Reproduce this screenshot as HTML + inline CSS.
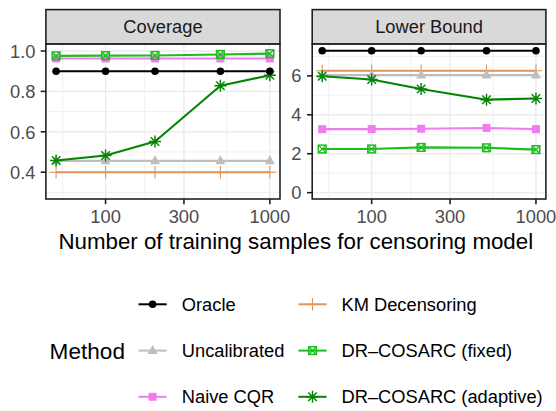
<!DOCTYPE html>
<html><head><meta charset="utf-8"><style>
html,body{margin:0;padding:0;background:#fff;}
svg{display:block;font-family:"Liberation Sans",sans-serif;}
</style></head><body>
<svg width="556" height="411" viewBox="0 0 556 411">
<rect width="556" height="411" fill="#fff"/>
<rect x="45.9" y="43.9" width="234.10" height="155.10" fill="#fff"/>
<line x1="45.9" x2="280.0" y1="192.40" y2="192.40" stroke="#EBEBEB" stroke-width="0.7"/>
<line x1="45.9" x2="280.0" y1="152.00" y2="152.00" stroke="#EBEBEB" stroke-width="0.7"/>
<line x1="45.9" x2="280.0" y1="111.60" y2="111.60" stroke="#EBEBEB" stroke-width="0.7"/>
<line x1="45.9" x2="280.0" y1="71.20" y2="71.20" stroke="#EBEBEB" stroke-width="0.7"/>
<line y1="43.9" y2="199.0" x1="62.60" x2="62.60" stroke="#EBEBEB" stroke-width="0.7"/>
<line y1="43.9" y2="199.0" x1="144.75" x2="144.75" stroke="#EBEBEB" stroke-width="0.7"/>
<line y1="43.9" y2="199.0" x1="226.90" x2="226.90" stroke="#EBEBEB" stroke-width="0.7"/>
<line x1="45.9" x2="280.0" y1="172.20" y2="172.20" stroke="#EBEBEB" stroke-width="1.4"/>
<line x1="45.9" x2="280.0" y1="131.80" y2="131.80" stroke="#EBEBEB" stroke-width="1.4"/>
<line x1="45.9" x2="280.0" y1="91.40" y2="91.40" stroke="#EBEBEB" stroke-width="1.4"/>
<line x1="45.9" x2="280.0" y1="51.00" y2="51.00" stroke="#EBEBEB" stroke-width="1.4"/>
<line y1="43.9" y2="199.0" x1="105.56" x2="105.56" stroke="#EBEBEB" stroke-width="1.4"/>
<line y1="43.9" y2="199.0" x1="183.95" x2="183.95" stroke="#EBEBEB" stroke-width="1.4"/>
<line y1="43.9" y2="199.0" x1="269.86" x2="269.86" stroke="#EBEBEB" stroke-width="1.4"/>
<polyline points="56.10,71.20 105.56,71.20 155.02,71.20 220.40,71.20 269.86,71.20" fill="none" stroke="#000000" stroke-width="2.1" stroke-linejoin="round"/>
<polyline points="56.10,160.89 105.56,160.89 155.02,160.89 220.40,160.89 269.86,160.89" fill="none" stroke="#BEBEBE" stroke-width="2.1" stroke-linejoin="round"/>
<polyline points="56.10,58.47 105.56,58.47 155.02,58.47 220.40,58.47 269.86,58.47" fill="none" stroke="#EF7DEF" stroke-width="2.1" stroke-linejoin="round"/>
<polyline points="56.10,172.20 105.56,172.20 155.02,172.20 220.40,172.20 269.86,172.20" fill="none" stroke="#E2955A" stroke-width="2.1" stroke-linejoin="round"/>
<polyline points="56.10,55.85 105.56,55.65 155.02,55.44 220.40,54.43 269.86,53.63" fill="none" stroke="#1CBE1C" stroke-width="2.1" stroke-linejoin="round"/>
<polyline points="56.10,160.48 105.56,155.43 155.02,141.50 220.40,85.74 269.86,75.24" fill="none" stroke="#048404" stroke-width="2.1" stroke-linejoin="round"/>
<path d="M49.90,172.20H62.30M56.10,166.00V178.40" stroke="#E2955A" stroke-width="1.1" fill="none"/>
<path d="M99.36,172.20H111.76M105.56,166.00V178.40" stroke="#E2955A" stroke-width="1.1" fill="none"/>
<path d="M148.82,172.20H161.22M155.02,166.00V178.40" stroke="#E2955A" stroke-width="1.1" fill="none"/>
<path d="M214.20,172.20H226.60M220.40,166.00V178.40" stroke="#E2955A" stroke-width="1.1" fill="none"/>
<path d="M263.66,172.20H276.06M269.86,166.00V178.40" stroke="#E2955A" stroke-width="1.1" fill="none"/>
<polygon points="56.10,155.31 61.10,164.31 51.10,164.31" fill="#BEBEBE"/>
<polygon points="105.56,155.31 110.56,164.31 100.56,164.31" fill="#BEBEBE"/>
<polygon points="155.02,155.31 160.02,164.31 150.02,164.31" fill="#BEBEBE"/>
<polygon points="220.40,155.31 225.40,164.31 215.40,164.31" fill="#BEBEBE"/>
<polygon points="269.86,155.31 274.86,164.31 264.86,164.31" fill="#BEBEBE"/>
<rect x="52.10" y="54.47" width="8.0" height="8.0" fill="#EF7DEF"/>
<rect x="101.56" y="54.47" width="8.0" height="8.0" fill="#EF7DEF"/>
<rect x="151.02" y="54.47" width="8.0" height="8.0" fill="#EF7DEF"/>
<rect x="216.40" y="54.47" width="8.0" height="8.0" fill="#EF7DEF"/>
<rect x="265.86" y="54.47" width="8.0" height="8.0" fill="#EF7DEF"/>
<rect x="52.25" y="52.00" width="7.7" height="7.7" stroke="#1CBE1C" stroke-width="1.5" fill="none"/><path d="M52.25,52.00L59.95,59.70M59.95,52.00L52.25,59.70" stroke="#1CBE1C" stroke-width="1.3"/>
<rect x="101.71" y="51.80" width="7.7" height="7.7" stroke="#1CBE1C" stroke-width="1.5" fill="none"/><path d="M101.71,51.80L109.41,59.50M109.41,51.80L101.71,59.50" stroke="#1CBE1C" stroke-width="1.3"/>
<rect x="151.17" y="51.59" width="7.7" height="7.7" stroke="#1CBE1C" stroke-width="1.5" fill="none"/><path d="M151.17,51.59L158.87,59.29M158.87,51.59L151.17,59.29" stroke="#1CBE1C" stroke-width="1.3"/>
<rect x="216.55" y="50.58" width="7.7" height="7.7" stroke="#1CBE1C" stroke-width="1.5" fill="none"/><path d="M216.55,50.58L224.25,58.28M224.25,50.58L216.55,58.28" stroke="#1CBE1C" stroke-width="1.3"/>
<rect x="266.01" y="49.78" width="7.7" height="7.7" stroke="#1CBE1C" stroke-width="1.5" fill="none"/><path d="M266.01,49.78L273.71,57.48M273.71,49.78L266.01,57.48" stroke="#1CBE1C" stroke-width="1.3"/>
<path d="M56.10,154.48V166.48M50.10,160.48H62.10M51.86,156.24L60.34,164.73M60.34,156.24L51.86,164.73" stroke="#048404" stroke-width="1.45" fill="none"/>
<path d="M105.56,149.43V161.43M99.56,155.43H111.56M101.32,151.19L109.80,159.68M109.80,151.19L101.32,159.68" stroke="#048404" stroke-width="1.45" fill="none"/>
<path d="M155.02,135.50V147.50M149.02,141.50H161.02M150.78,137.25L159.26,145.74M159.26,137.25L150.78,145.74" stroke="#048404" stroke-width="1.45" fill="none"/>
<path d="M220.40,79.74V91.74M214.40,85.74H226.40M216.16,81.50L224.64,89.99M224.64,81.50L216.16,89.99" stroke="#048404" stroke-width="1.45" fill="none"/>
<path d="M269.86,69.24V81.24M263.86,75.24H275.86M265.62,71.00L274.10,79.48M274.10,71.00L265.62,79.48" stroke="#048404" stroke-width="1.45" fill="none"/>
<circle cx="56.10" cy="71.20" r="3.8" fill="#000000"/>
<circle cx="105.56" cy="71.20" r="3.8" fill="#000000"/>
<circle cx="155.02" cy="71.20" r="3.8" fill="#000000"/>
<circle cx="220.40" cy="71.20" r="3.8" fill="#000000"/>
<circle cx="269.86" cy="71.20" r="3.8" fill="#000000"/>
<rect x="45.9" y="43.9" width="234.10" height="155.10" fill="none" stroke="#1A1A1A" stroke-width="1.55"/>
<rect x="45.9" y="9.6" width="234.10" height="34.30" fill="#D9D9D9" stroke="#1A1A1A" stroke-width="1.55"/>
<text x="162.95" y="32.7" text-anchor="middle" font-size="18.3" fill="#1A1A1A">Coverage</text>
<line x1="40.70" x2="45.9" y1="172.20" y2="172.20" stroke="#1A1A1A" stroke-width="1.55"/>
<text x="35.50" y="179.20" text-anchor="end" font-size="18.3" fill="#4D4D4D">0.4</text>
<line x1="40.70" x2="45.9" y1="131.80" y2="131.80" stroke="#1A1A1A" stroke-width="1.55"/>
<text x="35.50" y="138.80" text-anchor="end" font-size="18.3" fill="#4D4D4D">0.6</text>
<line x1="40.70" x2="45.9" y1="91.40" y2="91.40" stroke="#1A1A1A" stroke-width="1.55"/>
<text x="35.50" y="98.40" text-anchor="end" font-size="18.3" fill="#4D4D4D">0.8</text>
<line x1="40.70" x2="45.9" y1="51.00" y2="51.00" stroke="#1A1A1A" stroke-width="1.55"/>
<text x="35.50" y="58.00" text-anchor="end" font-size="18.3" fill="#4D4D4D">1.0</text>
<line x1="105.56" x2="105.56" y1="199.0" y2="204.20" stroke="#1A1A1A" stroke-width="1.55"/>
<text x="105.56" y="222.6" text-anchor="middle" font-size="18.3" fill="#4D4D4D">100</text>
<line x1="183.95" x2="183.95" y1="199.0" y2="204.20" stroke="#1A1A1A" stroke-width="1.55"/>
<text x="183.95" y="222.6" text-anchor="middle" font-size="18.3" fill="#4D4D4D">300</text>
<line x1="269.86" x2="269.86" y1="199.0" y2="204.20" stroke="#1A1A1A" stroke-width="1.55"/>
<text x="269.86" y="222.6" text-anchor="middle" font-size="18.3" fill="#4D4D4D">1000</text>
<rect x="312.2" y="43.9" width="233.70" height="155.10" fill="#fff"/>
<line x1="312.2" x2="545.9" y1="173.19" y2="173.19" stroke="#EBEBEB" stroke-width="0.7"/>
<line x1="312.2" x2="545.9" y1="134.27" y2="134.27" stroke="#EBEBEB" stroke-width="0.7"/>
<line x1="312.2" x2="545.9" y1="95.35" y2="95.35" stroke="#EBEBEB" stroke-width="0.7"/>
<line x1="312.2" x2="545.9" y1="56.43" y2="56.43" stroke="#EBEBEB" stroke-width="0.7"/>
<line y1="43.9" y2="199.0" x1="328.70" x2="328.70" stroke="#EBEBEB" stroke-width="0.7"/>
<line y1="43.9" y2="199.0" x1="410.85" x2="410.85" stroke="#EBEBEB" stroke-width="0.7"/>
<line y1="43.9" y2="199.0" x1="493.00" x2="493.00" stroke="#EBEBEB" stroke-width="0.7"/>
<line x1="312.2" x2="545.9" y1="192.65" y2="192.65" stroke="#EBEBEB" stroke-width="1.4"/>
<line x1="312.2" x2="545.9" y1="153.73" y2="153.73" stroke="#EBEBEB" stroke-width="1.4"/>
<line x1="312.2" x2="545.9" y1="114.81" y2="114.81" stroke="#EBEBEB" stroke-width="1.4"/>
<line x1="312.2" x2="545.9" y1="75.89" y2="75.89" stroke="#EBEBEB" stroke-width="1.4"/>
<line y1="43.9" y2="199.0" x1="371.66" x2="371.66" stroke="#EBEBEB" stroke-width="1.4"/>
<line y1="43.9" y2="199.0" x1="450.05" x2="450.05" stroke="#EBEBEB" stroke-width="1.4"/>
<line y1="43.9" y2="199.0" x1="535.96" x2="535.96" stroke="#EBEBEB" stroke-width="1.4"/>
<polyline points="322.20,50.74 371.66,50.74 421.12,50.74 486.50,50.74 535.96,50.74" fill="none" stroke="#000000" stroke-width="2.1" stroke-linejoin="round"/>
<polyline points="322.20,75.10 371.66,75.10 421.12,75.10 486.50,75.10 535.96,75.10" fill="none" stroke="#BEBEBE" stroke-width="2.1" stroke-linejoin="round"/>
<polyline points="322.20,129.14 371.66,129.14 421.12,128.75 486.50,127.96 535.96,129.14" fill="none" stroke="#EF7DEF" stroke-width="2.1" stroke-linejoin="round"/>
<polyline points="322.20,70.78 371.66,70.78 421.12,70.78 486.50,70.78 535.96,70.78" fill="none" stroke="#E2955A" stroke-width="2.1" stroke-linejoin="round"/>
<polyline points="322.20,148.99 371.66,148.99 421.12,147.42 486.50,147.81 535.96,149.58" fill="none" stroke="#1CBE1C" stroke-width="2.1" stroke-linejoin="round"/>
<polyline points="322.20,76.28 371.66,79.43 421.12,89.05 486.50,99.67 535.96,98.49" fill="none" stroke="#048404" stroke-width="2.1" stroke-linejoin="round"/>
<path d="M316.00,70.78H328.40M322.20,64.58V76.98" stroke="#E2955A" stroke-width="1.1" fill="none"/>
<path d="M365.46,70.78H377.86M371.66,64.58V76.98" stroke="#E2955A" stroke-width="1.1" fill="none"/>
<path d="M414.92,70.78H427.32M421.12,64.58V76.98" stroke="#E2955A" stroke-width="1.1" fill="none"/>
<path d="M480.30,70.78H492.70M486.50,64.58V76.98" stroke="#E2955A" stroke-width="1.1" fill="none"/>
<path d="M529.76,70.78H542.16M535.96,64.58V76.98" stroke="#E2955A" stroke-width="1.1" fill="none"/>
<polygon points="322.20,69.52 327.20,78.52 317.20,78.52" fill="#BEBEBE"/>
<polygon points="371.66,69.52 376.66,78.52 366.66,78.52" fill="#BEBEBE"/>
<polygon points="421.12,69.52 426.12,78.52 416.12,78.52" fill="#BEBEBE"/>
<polygon points="486.50,69.52 491.50,78.52 481.50,78.52" fill="#BEBEBE"/>
<polygon points="535.96,69.52 540.96,78.52 530.96,78.52" fill="#BEBEBE"/>
<rect x="318.20" y="125.14" width="8.0" height="8.0" fill="#EF7DEF"/>
<rect x="367.66" y="125.14" width="8.0" height="8.0" fill="#EF7DEF"/>
<rect x="417.12" y="124.75" width="8.0" height="8.0" fill="#EF7DEF"/>
<rect x="482.50" y="123.96" width="8.0" height="8.0" fill="#EF7DEF"/>
<rect x="531.96" y="125.14" width="8.0" height="8.0" fill="#EF7DEF"/>
<rect x="318.35" y="145.14" width="7.7" height="7.7" stroke="#1CBE1C" stroke-width="1.5" fill="none"/><path d="M318.35,145.14L326.05,152.84M326.05,145.14L318.35,152.84" stroke="#1CBE1C" stroke-width="1.3"/>
<rect x="367.81" y="145.14" width="7.7" height="7.7" stroke="#1CBE1C" stroke-width="1.5" fill="none"/><path d="M367.81,145.14L375.51,152.84M375.51,145.14L367.81,152.84" stroke="#1CBE1C" stroke-width="1.3"/>
<rect x="417.27" y="143.57" width="7.7" height="7.7" stroke="#1CBE1C" stroke-width="1.5" fill="none"/><path d="M417.27,143.57L424.97,151.27M424.97,143.57L417.27,151.27" stroke="#1CBE1C" stroke-width="1.3"/>
<rect x="482.65" y="143.96" width="7.7" height="7.7" stroke="#1CBE1C" stroke-width="1.5" fill="none"/><path d="M482.65,143.96L490.35,151.66M490.35,143.96L482.65,151.66" stroke="#1CBE1C" stroke-width="1.3"/>
<rect x="532.11" y="145.73" width="7.7" height="7.7" stroke="#1CBE1C" stroke-width="1.5" fill="none"/><path d="M532.11,145.73L539.81,153.43M539.81,145.73L532.11,153.43" stroke="#1CBE1C" stroke-width="1.3"/>
<path d="M322.20,70.28V82.28M316.20,76.28H328.20M317.96,72.04L326.44,80.52M326.44,72.04L317.96,80.52" stroke="#048404" stroke-width="1.45" fill="none"/>
<path d="M371.66,73.43V85.43M365.66,79.43H377.66M367.42,75.18L375.90,83.67M375.90,75.18L367.42,83.67" stroke="#048404" stroke-width="1.45" fill="none"/>
<path d="M421.12,83.05V95.05M415.12,89.05H427.12M416.88,84.81L425.36,93.30M425.36,84.81L416.88,93.30" stroke="#048404" stroke-width="1.45" fill="none"/>
<path d="M486.50,93.67V105.67M480.50,99.67H492.50M482.26,95.42L490.74,103.91M490.74,95.42L482.26,103.91" stroke="#048404" stroke-width="1.45" fill="none"/>
<path d="M535.96,92.49V104.49M529.96,98.49H541.96M531.72,94.24L540.20,102.73M540.20,94.24L531.72,102.73" stroke="#048404" stroke-width="1.45" fill="none"/>
<circle cx="322.20" cy="50.74" r="3.8" fill="#000000"/>
<circle cx="371.66" cy="50.74" r="3.8" fill="#000000"/>
<circle cx="421.12" cy="50.74" r="3.8" fill="#000000"/>
<circle cx="486.50" cy="50.74" r="3.8" fill="#000000"/>
<circle cx="535.96" cy="50.74" r="3.8" fill="#000000"/>
<rect x="312.2" y="43.9" width="233.70" height="155.10" fill="none" stroke="#1A1A1A" stroke-width="1.55"/>
<rect x="312.2" y="9.6" width="233.70" height="34.30" fill="#D9D9D9" stroke="#1A1A1A" stroke-width="1.55"/>
<text x="429.05" y="32.7" text-anchor="middle" font-size="18.3" fill="#1A1A1A">Lower Bound</text>
<line x1="307.00" x2="312.2" y1="192.65" y2="192.65" stroke="#1A1A1A" stroke-width="1.55"/>
<text x="301.40" y="198.65" text-anchor="end" font-size="18.3" fill="#4D4D4D">0</text>
<line x1="307.00" x2="312.2" y1="153.73" y2="153.73" stroke="#1A1A1A" stroke-width="1.55"/>
<text x="301.40" y="159.73" text-anchor="end" font-size="18.3" fill="#4D4D4D">2</text>
<line x1="307.00" x2="312.2" y1="114.81" y2="114.81" stroke="#1A1A1A" stroke-width="1.55"/>
<text x="301.40" y="120.81" text-anchor="end" font-size="18.3" fill="#4D4D4D">4</text>
<line x1="307.00" x2="312.2" y1="75.89" y2="75.89" stroke="#1A1A1A" stroke-width="1.55"/>
<text x="301.40" y="81.89" text-anchor="end" font-size="18.3" fill="#4D4D4D">6</text>
<line x1="371.66" x2="371.66" y1="199.0" y2="204.20" stroke="#1A1A1A" stroke-width="1.55"/>
<text x="371.66" y="222.6" text-anchor="middle" font-size="18.3" fill="#4D4D4D">100</text>
<line x1="450.05" x2="450.05" y1="199.0" y2="204.20" stroke="#1A1A1A" stroke-width="1.55"/>
<text x="450.05" y="222.6" text-anchor="middle" font-size="18.3" fill="#4D4D4D">300</text>
<line x1="535.96" x2="535.96" y1="199.0" y2="204.20" stroke="#1A1A1A" stroke-width="1.55"/>
<text x="535.96" y="222.6" text-anchor="middle" font-size="18.3" fill="#4D4D4D">1000</text>
<text x="295.8" y="249" text-anchor="middle" font-size="22.3" fill="#000">Number of training samples for censoring model</text>
<text x="49.6" y="359" font-size="22.6" fill="#000">Method</text>
<line x1="138.5" x2="166.70" y1="304.3" y2="304.3" stroke="#000000" stroke-width="2"/>
<circle cx="152.60" cy="304.30" r="3.8" fill="#000000"/>
<text x="181.8" y="310.70" font-size="18.3" fill="#000">Oracle</text>
<line x1="138.5" x2="166.70" y1="350.6" y2="350.6" stroke="#BEBEBE" stroke-width="2"/>
<polygon points="152.60,345.02 157.60,354.02 147.60,354.02" fill="#BEBEBE"/>
<text x="181.8" y="357.00" font-size="18.3" fill="#000">Uncalibrated</text>
<line x1="138.5" x2="166.70" y1="396.8" y2="396.8" stroke="#EF7DEF" stroke-width="2"/>
<rect x="148.60" y="392.80" width="8.0" height="8.0" fill="#EF7DEF"/>
<text x="181.8" y="403.20" font-size="18.3" fill="#000">Naive CQR</text>
<line x1="298.4" x2="326.60" y1="304.3" y2="304.3" stroke="#E2955A" stroke-width="2"/>
<path d="M306.30,304.30H318.70M312.50,298.10V310.50" stroke="#E2955A" stroke-width="1.1" fill="none"/>
<text x="341.5" y="310.70" font-size="18.3" fill="#000">KM Decensoring</text>
<line x1="298.4" x2="326.60" y1="350.6" y2="350.6" stroke="#1CBE1C" stroke-width="2"/>
<rect x="308.65" y="346.75" width="7.7" height="7.7" stroke="#1CBE1C" stroke-width="1.5" fill="none"/><path d="M308.65,346.75L316.35,354.45M316.35,346.75L308.65,354.45" stroke="#1CBE1C" stroke-width="1.3"/>
<text x="341.5" y="357.00" font-size="18.3" fill="#000">DR–COSARC (fixed)</text>
<line x1="298.4" x2="326.60" y1="396.8" y2="396.8" stroke="#048404" stroke-width="2"/>
<path d="M312.50,390.80V402.80M306.50,396.80H318.50M308.26,392.56L316.74,401.04M316.74,392.56L308.26,401.04" stroke="#048404" stroke-width="1.45" fill="none"/>
<text x="341.5" y="403.20" font-size="18.3" fill="#000">DR–COSARC (adaptive)</text>
</svg></body></html>
